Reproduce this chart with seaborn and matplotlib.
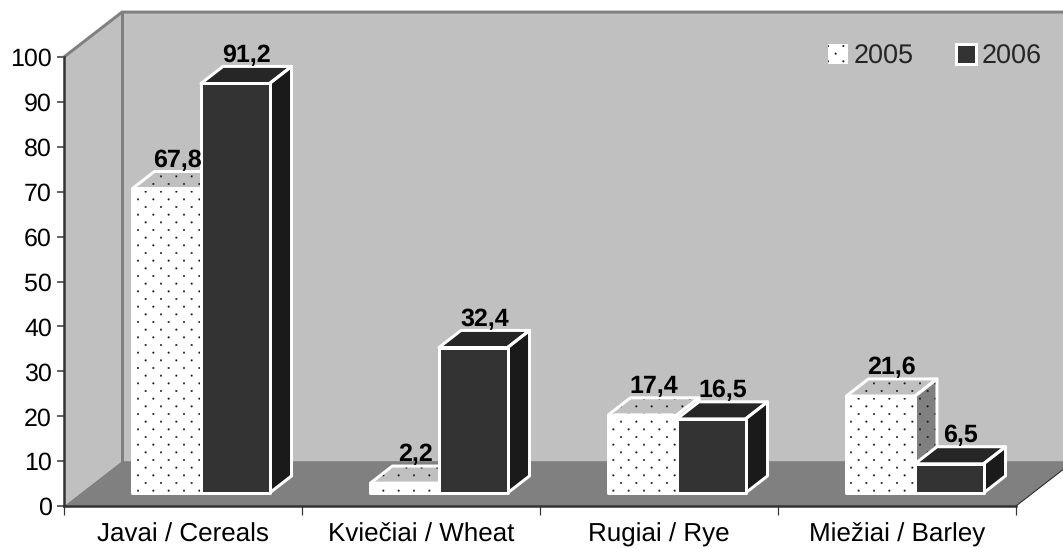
""" 3D style grouped bars: cereals area 2005 vs 2006 """
import matplotlib
matplotlib.use('Agg')
import matplotlib.hatch
import matplotlib.pyplot as plt
from matplotlib.patches import Polygon, Patch
from matplotlib.path import Path
import numpy as np
import pandas as pd
import seaborn as sns

categories = ['Javai / Cereals', 'Kviečiai / Wheat', 'Rugiai / Rye', 'Miežiai / Barley']
years = ['2005', '2006']
values_2005 = [67.8, 2.2, 17.4, 21.6]
values_2006 = [91.2, 32.4, 16.5, 6.5]
y_ticks = list(range(0, 101, 10))

# dpi 92 makes the 6-per-tile dot hatch land on the same spacing as the reference
DPI = 92
PT = 72 / DPI
W, H = 1063, 548

# depth of the fake 3D box, in data units
WALL_DX, WALL_DY = 0.2437, 10.0
BAR_DX, BAR_DY = 0.0924, 3.8
SHIFT_X, SHIFT_Y = 0.0756, 2.9
BAR_WIDTH = 0.576

WALL = '#C0C0C0'
FLOOR = '#808080'
AXIS = '#333333'
LIGHT = ['#FFFFFF', WALL, FLOOR]       # front, top, side
DARK = ['#333333', '#262626', '#1A1A1A']
EDGE = 3 * PT


class DiamondDots(matplotlib.hatch.HatchPatternBase):
    """Excel's dotted fill: rows twice as close as the columns, every other row staggered."""
    filled = True

    def __init__(self, hatch, density):
        n = hatch.count('.') * density
        self.centers = []
        for row in range(2 * n + 1):
            cols = (np.arange(n + 1) if row % 2 == 0 else np.arange(n) + 0.5) / max(n, 1)
            self.centers += [(c, row / (2 * max(n, 1))) for c in cols]
        self.shape = Path.unit_circle()
        self.num_vertices = len(self.centers) * len(self.shape.vertices) if n else 0

    def set_vertices_and_codes(self, vertices, codes):
        size = len(self.shape.vertices)
        for i, center in enumerate(self.centers):
            vertices[i * size:(i + 1) * size] = self.shape.vertices * 0.0095 + center
            codes[i * size:(i + 1) * size] = self.shape.codes


types = matplotlib.hatch._hatch_types
types[types.index(matplotlib.hatch.SmallFilledCircles)] = DiamondDots

sns.set_style('white')
plt.rcParams['font.family'] = ['Liberation Sans', 'DejaVu Sans']
plt.rcParams['hatch.linewidth'] = 0.2
plt.rcParams['text.hinting'] = 'no_hinting'
plt.rcParams['text.hinting_factor'] = 1

df = pd.DataFrame({
    'category': categories * 2,
    'year': [years[0]] * 4 + [years[1]] * 4,
    'value': values_2005 + values_2006,
})

fig = plt.figure(figsize=(W / DPI, H / DPI), dpi=DPI, facecolor='white')
ax = fig.add_axes([64 / W, (H - 506) / H, 952 / W, 449 / H], facecolor='none')

sns.barplot(data=df, x='category', y='value', hue='year', hue_order=years,
            palette=[LIGHT[0], DARK[0]], width=BAR_WIDTH, gap=0, saturation=1,
            linewidth=0, legend=False, ax=ax)

ax.set_xlim(-0.5, 3.5)
ax.set_ylim(0, 100)
x0, x1 = ax.get_xlim()
y0, y1 = ax.get_ylim()


def add_poly(verts, z, **kw):
    ax.add_patch(Polygon(verts, closed=True, clip_on=False, zorder=z, **kw))


# walls and floor
add_poly([(x0, y0), (x0 + WALL_DX, y0 + WALL_DY), (x0 + WALL_DX, y1 + WALL_DY), (x0, y1)],
         0.5, facecolor=WALL, linewidth=0)
add_poly([(x0 + WALL_DX, y0 + WALL_DY), (x1 + WALL_DX, y0 + WALL_DY),
          (x1 + WALL_DX, y1 + WALL_DY), (x0 + WALL_DX, y1 + WALL_DY)],
         0.5, facecolor=WALL, linewidth=0)
add_poly([(x0, y0), (x1, y0), (x1 + WALL_DX, y0 + WALL_DY), (x0 + WALL_DX, y0 + WALL_DY)],
         0.6, facecolor=FLOOR, linewidth=0)
ax.plot([x0, x0 + WALL_DX, x1 + WALL_DX], [y1, y1 + WALL_DY, y1 + WALL_DY],
        color=FLOOR, lw=3 * PT, clip_on=False, zorder=0.7, solid_joinstyle='miter')
ax.plot([x0 + WALL_DX, x0 + WALL_DX], [y1 + WALL_DY, y0 + WALL_DY],
        color=FLOOR, lw=3 * PT, clip_on=False, zorder=0.7)
ax.plot([x1, x1 + WALL_DX], [y0, y0 + WALL_DY], color='#222222', lw=1 * PT,
        clip_on=False, zorder=0.7)

# bars: move the seaborn front faces into the box, then add top and side
z = 2.0
for c in range(len(categories)):
    for h, container in enumerate(ax.containers):
        bar = container[c]
        colors = LIGHT if h == 0 else DARK
        hatch = '.' if h == 0 else None
        bar.set_x(bar.get_x() + SHIFT_X)
        bar.set_y(SHIFT_Y)
        left, bottom = bar.get_x(), bar.get_y()
        right, top = left + bar.get_width(), bottom + bar.get_height()

        side = [(right, bottom), (right + BAR_DX, bottom + BAR_DY),
                (right + BAR_DX, top + BAR_DY), (right, top)]
        roof = [(left, top), (right, top),
                (right + BAR_DX, top + BAR_DY), (left + BAR_DX, top + BAR_DY)]
        front = [(left, bottom), (right, bottom), (right, top), (left, top)]

        for verts, color in [(side, colors[2]), (roof, colors[1])]:
            add_poly(verts, z, facecolor=color, edgecolor='#1A1A1A', hatch=hatch, linewidth=0)
            add_poly(verts, z + 0.01, fill=False, edgecolor='white', linewidth=EDGE,
                     joinstyle='round')
        bar.set_edgecolor('#1A1A1A')
        bar.set_hatch(hatch)
        bar.set_zorder(z + 0.02)
        add_poly(front, z + 0.03, fill=False, edgecolor='white', linewidth=EDGE,
                 joinstyle='round')
        z += 0.1

        ax.text((left + right) / 2 + BAR_DX / 2, top + BAR_DY + 1.0,
                f'{bar.get_height():.1f}'.replace('.', ','),
                ha='center', va='baseline', fontsize=25 * PT, fontweight='bold',
                color='black', zorder=10)

# axes
ax.set_xlabel('')
ax.set_ylabel('')
ax.set_yticks(y_ticks)
ax.set_xticks(np.arange(-0.5, 4), labels=[])
ax.set_xticks(range(len(categories)), labels=categories, minor=True)
ax.tick_params(axis='y', which='major', left=True, length=7 * PT, width=1.5 * PT,
               color=AXIS, pad=5 * PT, labelsize=25 * PT, labelcolor='black')
ax.tick_params(axis='x', which='major', bottom=True, length=9 * PT, width=1.2 * PT, color=AXIS)
ax.tick_params(axis='x', which='minor', bottom=False, length=0, pad=17 * PT,
               labelsize=25.5 * PT, labelcolor='black')
sns.despine(ax=ax, top=True, right=True)
for name in ['left', 'bottom']:
    ax.spines[name].set_color(AXIS)
    ax.spines[name].set_linewidth(2.5 * PT)
    ax.spines[name].set_zorder(1)

handles = [
    Patch(facecolor=LIGHT[0], edgecolor='#1A1A1A', hatch='.', linewidth=0),
    Patch(facecolor=DARK[0], edgecolor='white', linewidth=EDGE),
]
ax.legend(handles, years, ncol=2, frameon=False, fontsize=27 * PT,
          loc='upper left', bbox_to_anchor=((828 - 64) / 952, (506 - 44) / 449),
          borderaxespad=0, borderpad=0, handlelength=0.74, handleheight=0.74,
          handletextpad=0.22, columnspacing=1.55)

fig.savefig('out.png', dpi=DPI)
